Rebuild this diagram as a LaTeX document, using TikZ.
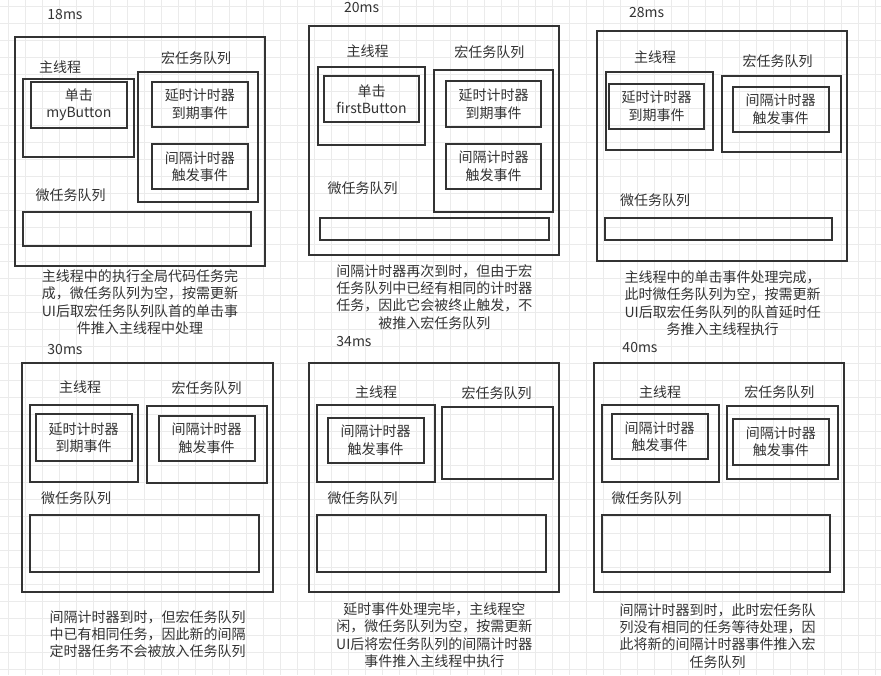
\documentclass[tikz,border=0pt]{standalone}
\usepackage{fontspec}
\setmainfont{Noto Sans CJK SC}
\usetikzlibrary{positioning}
\definecolor{ink}{HTML}{333333}
\definecolor{gridgray}{HTML}{EBEBEB}

\begin{document}
\begin{tikzpicture}[x=0.75pt, y=-0.75pt,
    box/.style={draw=ink, line width=1.5pt},
    lbl/.style={text=ink, inner sep=0pt, align=center, font=\fontsize{10.5pt}{13.2pt}\selectfont},
    captext/.style={text=ink, inner sep=0pt, align=center, font=\fontsize{10.5pt}{13pt}\selectfont},
    gridline/.style={draw=gridgray, line width=0.75pt}]
        \fill[white] (0,0) rectangle (881,675);
        \useasboundingbox (0,0) rectangle (881,675);
        % background grid
        \foreach \gx in {8.3,25.3,...,877}
           \draw[gridline] (\gx,0) -- (\gx,675);
        \foreach \gy in {6.7,23.7,...,675}
           \draw[gridline] (0,\gy) -- (881,\gy);
        % 18ms
        \node[lbl] at (65,15) (t18) {18ms};
        \draw[box] (14.7,36.7) rectangle (265.3,265.7);
        \node[lbl] at (60,66.7) (m18) {主线程};
        \draw[box] (23.3,78.7) rectangle (134.3,156.7);
        \draw[box] (31,81.7) rectangle (126.7,128);
        \node[lbl] at (78.8,104.8) (m18a) {单击\\myButton};
        \node[lbl] at (196,58.3) (q18) {宏任务队列};
        \draw[box] (137.7,72) rectangle (258.3,202.3);
        \draw[box] (152,81.7) rectangle (247.7,127.3);
        \node[lbl] at (199.8,104.5) (q18a) {延时计时器\\到期事件};
        \draw[box] (152,144) rectangle (247.7,189.3);
        \node[lbl] at (199.8,166.7) (q18b) {间隔计时器\\触发事件};
        \node[lbl] at (70.7,195) (w18) {微任务队列};
        \draw[box] (22.7,211.7) rectangle (250.7,246.3);
        \node[captext] at (140,302.2) (c18) {主线程中的执行全局代码任务完\\成，微任务队列为空，按需更新\\UI后取宏任务队列队首的单击事\\件推入主线程中处理};
        % 20ms
        \node[lbl] at (361.7,7.3) (t20) {20ms};
        \draw[box] (309.3,25.7) rectangle (559.3,255.3);
        \node[lbl] at (367.7,50.7) (m20) {主线程};
        \draw[box] (317.7,66.7) rectangle (425.3,145);
        \draw[box] (323.7,76) rectangle (419.3,122.3);
        \node[lbl] at (371.5,99.2) (m20a) {单击\\firstButton};
        \node[lbl] at (489.3,51.7) (q20) {宏任务队列};
        \draw[box] (433.7,69.7) rectangle (553.3,212.3);
        \draw[box] (445.7,81.3) rectangle (541.3,127.3);
        \node[lbl] at (493.5,104.3) (q20a) {延时计时器\\到期事件};
        \draw[box] (445.7,143.7) rectangle (541.3,189.3);
        \node[lbl] at (493.5,166.5) (q20b) {间隔计时器\\触发事件};
        \node[lbl] at (362.7,188.3) (w20) {微任务队列};
        \draw[box] (319.7,218) rectangle (548.7,240);
        \node[captext] at (434.3,296.7) (c20) {间隔计时器再次到时，但由于宏\\任务队列中已经有相同的计时器\\任务，因此它会被终止触发，不\\被推入宏任务队列};
        % 28ms
        \node[lbl] at (646.7,12.3) (t28) {28ms};
        \draw[box] (597,31.3) rectangle (847.3,260.7);
        \node[lbl] at (655,56.7) (m28) {主线程};
        \draw[box] (605.7,72.3) rectangle (712.7,150.3);
        \draw[box] (608.7,83.7) rectangle (704.3,129.3);
        \node[lbl] at (656.5,106.5) (m28a) {延时计时器\\到期事件};
        \node[lbl] at (777.7,61) (q28) {宏任务队列};
        \draw[box] (721.7,75.7) rectangle (841.3,152);
        \draw[box] (732.7,86.7) rectangle (828.7,132.3);
        \node[lbl] at (780.7,109.5) (q28a) {间隔计时器\\触发事件};
        \node[lbl] at (655,200) (w28) {微任务队列};
        \draw[box] (604.7,218) rectangle (832,240);
        \node[captext] at (722.7,303) (c28) {主线程中的单击事件处理完成，\\此时微任务队列为空，按需更新\\UI后取宏任务队列的队首延时任\\务推入主线程执行};
        % 30ms
        \node[lbl] at (65,350) (t30) {30ms};
        \draw[box] (22,362.7) rectangle (272.7,592.3);
        \node[lbl] at (80,387.3) (m30) {主线程};
        \draw[box] (30.3,404.7) rectangle (138.3,482);
        \draw[box] (35.7,414.3) rectangle (131.7,461);
        \node[lbl] at (83.7,437.7) (m30a) {延时计时器\\到期事件};
        \node[lbl] at (206.7,388.3) (q30) {宏任务队列};
        \draw[box] (146.7,406) rectangle (266.7,482.7);
        \draw[box] (158.7,415.7) rectangle (254.7,461);
        \node[lbl] at (206.7,438.3) (q30a) {间隔计时器\\触发事件};
        \node[lbl] at (76,498.3) (w30) {微任务队列};
        \draw[box] (29.7,515) rectangle (258.7,572.3);
        \node[captext] at (147.7,634.3) (c30) {间隔计时器到时，但宏任务队列\\中已有相同任务，因此新的间隔\\定时器任务不会被放入任务队列};
        % 34ms
        \node[lbl] at (354,341.7) (t34) {34ms};
        \draw[box] (308.7,363) rectangle (559.3,592);
        \node[lbl] at (376,391.7) (m34) {主线程};
        \draw[box] (317.3,404.7) rectangle (434.7,482);
        \draw[box] (327.7,417.7) rectangle (423.7,463);
        \node[lbl] at (375.7,440.3) (m34a) {间隔计时器\\触发事件};
        \node[lbl] at (496.7,392.7) (q34) {宏任务队列};
        \draw[box] (441.7,406.7) rectangle (553.3,479.3);
        \node[lbl] at (362.7,498.3) (w34) {微任务队列};
        \draw[box] (316.7,515) rectangle (545.7,572);
        \node[captext] at (434.3,635) (c34) {延时事件处理完毕，主线程空\\闲，微任务队列为空，按需更新\\UI后将宏任务队列的间隔计时器\\事件推入主线程中执行};
        % 40ms
        \node[lbl] at (640,347.3) (t40) {40ms};
        \draw[box] (593.7,363) rectangle (844.3,592);
        \node[lbl] at (660,391.7) (m40) {主线程};
        \draw[box] (601.7,404.7) rectangle (718.7,482);
        \draw[box] (611.7,414) rectangle (707.7,459.3);
        \node[lbl] at (659.7,436.7) (m40a) {间隔计时器\\触发事件};
        \node[lbl] at (779.3,392.3) (q40) {宏任务队列};
        \draw[box] (726.7,406.3) rectangle (838.3,479.3);
        \draw[box] (733,418.7) rectangle (828.7,465);
        \node[lbl] at (780.8,441.8) (q40a) {间隔计时器\\触发事件};
        \node[lbl] at (646.7,498.3) (w40) {微任务队列};
        \draw[box] (602,515) rectangle (829.7,572);
        \node[captext] at (717.7,635.8) (c40) {间隔计时器到时，此时宏任务队\\列没有相同的任务等待处理，因\\此将新的间隔计时器事件推入宏\\任务队列};
      \end{tikzpicture}
\end{document}
